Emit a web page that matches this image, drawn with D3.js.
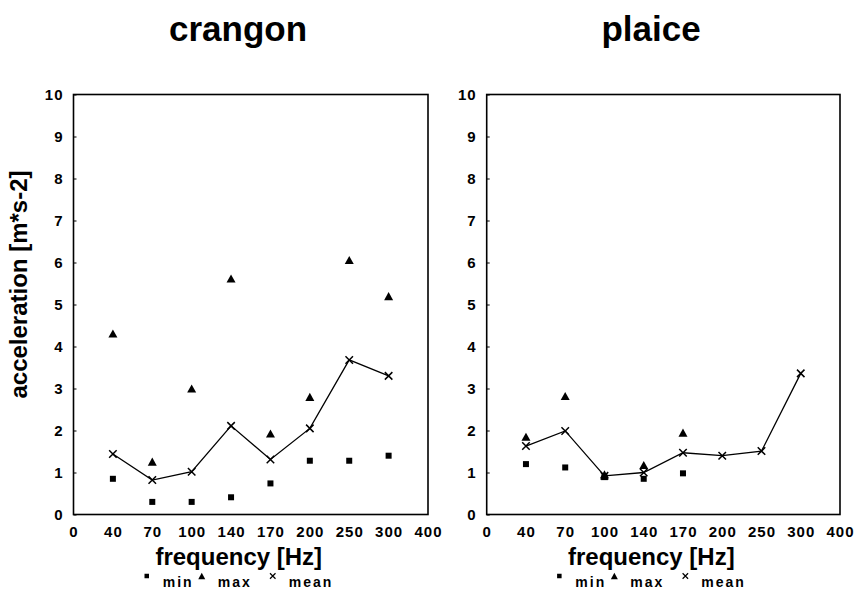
<!DOCTYPE html>
<html>
<head>
<meta charset="utf-8">
<script src="https://cdn.jsdelivr.net/npm/d3@7"></script>
<style>
  html, body { margin: 0; padding: 0; background: #fff; }
  svg text { font-family: "Liberation Sans", Arial, sans-serif; font-weight: bold; fill: #000; }
  .tickLbl text { font-size: 15px; letter-spacing: 1px; }
</style>
</head>
<body>
<svg id="chart" width="855" height="590"></svg>
<script>
// ---------- data ----------
const xLabels = ['0', '40', '70', '100', '140', '170', '200', '250', '300', '400'];
const freqs = ['40', '70', '100', '140', '170', '200', '250', '300'];
const yTicks = [0, 1, 2, 3, 4, 5, 6, 7, 8, 9, 10];

const crangonMin  = [0.85, 0.30, 0.30, 0.41, 0.74, 1.28, 1.28, 1.40];
const crangonMax  = [4.31, 1.26, 3.00, 5.62, 1.93, 2.80, 6.06, 5.20];
const crangonMean = [1.44, 0.82, 1.02, 2.11, 1.31, 2.05, 3.68, 3.30];

const plaiceMin  = [1.20, 1.12, 0.89, 0.85, 0.98, null, null, null];
const plaiceMax  = [1.85, 2.82, 0.96, 1.18, 1.95, null, null, null];
const plaiceMean = [1.63, 1.99, 0.92, 1.00, 1.47, 1.40, 1.51, 3.36];

const panels = [
  { title: 'crangon', left: 73.5, right: 428, titleX: 238, min: crangonMin, max: crangonMax, mean: crangonMean, yTitle: true },
  { title: 'plaice', left: 486.7, right: 840, titleX: 651, min: plaiceMin, max: plaiceMax, mean: plaiceMean, yTitle: false }
];

const plotTop = 94.5, plotBottom = 514.5;
const svg = d3.select('#chart');

const y = d3.scaleLinear().domain([0, 10]).range([plotBottom, plotTop]);

// ---------- markers ----------
function square(g, cx, cy, s) {
  g.append('rect').attr('x', cx - s / 2).attr('y', cy - s / 2)
    .attr('width', s).attr('height', s).attr('fill', '#000');
}
function triangle(g, cx, cy, s) {
  const h = s * 0.9;
  g.append('path')
    .attr('d', `M${cx},${cy - h / 2}L${cx + s / 2},${cy + h / 2}L${cx - s / 2},${cy + h / 2}Z`)
    .attr('fill', '#000');
}
function cross(g, cx, cy, s, w) {
  const r = s / 2;
  g.append('path')
    .attr('d', `M${cx - r},${cy - r}L${cx + r},${cy + r}M${cx - r},${cy + r}L${cx + r},${cy - r}`)
    .attr('stroke', '#000').attr('stroke-width', w || 1.4).attr('fill', 'none');
}

panels.forEach(p => {
  const x = d3.scaleLinear().domain([0, xLabels.length - 1]).range([p.left, p.right]);
  const xi = f => x(xLabels.indexOf(f));
  const g = svg.append('g');
  const cx = (p.left + p.right) / 2;

  // title
  svg.append('text')
    .attr('x', p.titleX).attr('y', 41)
    .attr('text-anchor', 'middle')
    .style('font-size', '35px')
    .text(p.title);

  // frame
  g.append('rect')
    .attr('x', p.left).attr('y', plotTop)
    .attr('width', p.right - p.left).attr('height', plotBottom - plotTop)
    .attr('fill', 'none').attr('stroke', '#000').attr('stroke-width', 1.6);

  // y axis ticks + labels
  const yAxis = d3.axisLeft(y).tickValues(yTicks).tickSize(-3).tickPadding(10).tickFormat(d3.format('d'));
  const ya = g.append('g').attr('class', 'tickLbl').attr('transform', `translate(${p.left},0)`).call(yAxis);
  ya.attr('font-size', null).attr('font-family', null);
  ya.select('.domain').remove();
  ya.selectAll('line').attr('stroke', '#000').attr('stroke-width', 1);

  // x axis labels
  const xa = g.append('g').attr('class', 'tickLbl').attr('transform', `translate(0,${plotBottom})`)
    .call(d3.axisBottom(x).tickValues(d3.range(xLabels.length)).tickSize(0).tickPadding(12)
      .tickFormat(i => xLabels[i]));
  xa.attr('font-size', null).attr('font-family', null);
  xa.select('.domain').remove();

  // axis title
  svg.append('text')
    .attr('x', cx - 12).attr('y', 565)
    .attr('text-anchor', 'middle')
    .style('font-size', '24px')
    .text('frequency [Hz]');

  if (p.yTitle) {
    svg.append('text')
      .attr('transform', `translate(27,${(plotTop + plotBottom) / 2 - 20}) rotate(-90)`)
      .attr('text-anchor', 'middle')
      .style('font-size', '24px')
      .text('acceleration [m*s-2]');
  }

  // mean line
  const line = d3.line()
    .defined(d => d.v != null)
    .x(d => xi(d.f)).y(d => y(d.v));
  const meanPts = freqs.map((f, i) => ({ f, v: p.mean[i] }));
  g.append('path').datum(meanPts)
    .attr('d', line).attr('fill', 'none')
    .attr('stroke', '#000').attr('stroke-width', 1.3);

  freqs.forEach((f, i) => {
    if (p.min[i] != null) square(g, xi(f), y(p.min[i]), 6);
    if (p.max[i] != null) triangle(g, xi(f), y(p.max[i]), 9);
    if (p.mean[i] != null) cross(g, xi(f), y(p.mean[i]), 7.5, 1.5);
  });

  // legend
  const lx = cx - 12 - 94;
  const lg = svg.append('g');
  const items = [
    { label: 'min', draw: (a, b) => square(lg, a, b, 4.5) },
    { label: 'max', draw: (a, b) => triangle(lg, a, b, 7) },
    { label: 'mean', draw: (a, b) => cross(lg, a, b, 5.5, 1.2) }
  ];
  const offs = [0, 55, 126];
  items.forEach((it, k) => {
    const ix = lx + offs[k];
    it.draw(ix + 2, 576);
    lg.append('text').attr('x', ix + 18).attr('y', 587)
      .style('font-size', '14px').style('letter-spacing', '2px')
      .text(it.label);
  });
});
</script>
</body>
</html>
